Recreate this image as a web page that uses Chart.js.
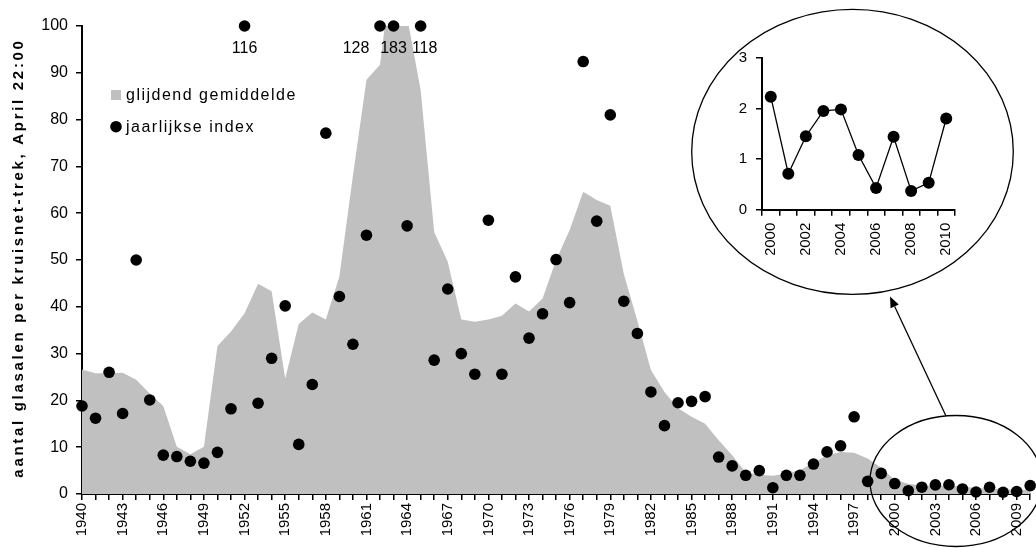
<!DOCTYPE html>
<html>
<head>
<meta charset="utf-8">
<script src="https://cdn.jsdelivr.net/npm/chart.js@4.4.1/dist/chart.umd.min.js"></script>
<style>
  html, body { margin: 0; padding: 0; background: #fff; }
  #wrap { position: relative; width: 1036px; height: 548px; }
  #wrap canvas { position: absolute; left: 0; top: 0; }
  #inset { pointer-events: none; }
</style>
</head>
<body>
<div id="wrap">
  <canvas id="main" width="1036" height="548"></canvas>
  <canvas id="inset" width="1036" height="548"></canvas>
</div>
<script>
// ---- data ----------------------------------------------------------------
const years = [
  '1940','1941','1942','1943','1944','1945','1946','1947','1948','1949',
  '1950','1951','1952','1953','1954','1955','1956','1957','1958','1959',
  '1960','1961','1962','1963','1964','1965','1966','1967','1968','1969',
  '1970','1971','1972','1973','1974','1975','1976','1977','1978','1979',
  '1980','1981','1982','1983','1984','1985','1986','1987','1988','1989',
  '1990','1991','1992','1993','1994','1995','1996','1997','1998','1999',
  '2000','2001','2002','2003','2004','2005','2006','2007','2008','2009','2010'
];

// running mean (grey area)
const movingAverage = [
  26.6, 25.8, 25.8, 25.9, 24.4, 21.5, 18.8, 10.1, 8.5, 10.1,
  31.6, 34.7, 38.6, 44.9, 43.3, 24.7, 36.3, 38.8, 37.3, 46.5,
  68.0, 88.5, 91.7, 115, 102, 86.3, 56.0, 49.6, 37.3, 36.8,
  37.3, 38.1, 40.7, 39.0, 41.8, 50.0, 56.4, 64.6, 62.8, 61.6,
  47.0, 37.0, 26.5, 21.8, 18.3, 16.5, 15.0, 11.5, 8.3, 4.6,
  4.1, 3.9, 4.4, 5.1, 6.7, 8.3, 9.0, 8.8, 7.6, 5.6,
  3.0, 2.2, 1.8, 1.7, 1.8, 1.6, 1.3, 1.2, 1.0, 0.9, 0.9
];

// yearly index (black dots)
const yearlyIndex = [
  18.8, 16.2, 26.0, 17.2, 50.0, 20.1, 8.3, 8.0, 7.0, 6.6,
  8.9, 18.2, 116, 19.4, 29.0, 40.2, 10.6, 23.4, 77.1, 42.2,
  32.0, 55.3, 128, 183, 57.3, 118, 28.6, 43.8, 30.0, 25.6,
  58.5, 25.6, 46.4, 33.3, 38.5, 50.1, 40.9, 92.4, 58.3, 81.0,
  41.2, 34.3, 21.8, 14.6, 19.5, 19.8, 20.8, 7.9, 6.0, 4.0,
  5.0, 1.35, 4.0, 4.0, 6.4, 9.0, 10.3, 16.5, 2.7, 4.4,
  2.23, 0.71, 1.45, 1.95, 1.98, 1.08, 0.43, 1.44, 0.37, 0.53, 1.80
];

const yTicksMain = { min: 0, max: 100, step: 10 };
const yTicksInset = { min: 0, max: 3, step: 1 };

const seriesNames = ['glijdend gemiddelde', 'jaarlijkse index'];
const yAxisTitle = 'aantal glasalen per kruisnet-trek, April 22:00';

// the last decade, shown enlarged in the round inset
const insetStart = years.indexOf('2000');
const insetYears = years.slice(insetStart);
const insetIndex = yearlyIndex.slice(insetStart);

// ---- styling -------------------------------------------------------------
const FONT = "'Liberation Sans', Arial, Helvetica, sans-serif";
const GREY = '#c0c0c0';
Chart.defaults.font.family = FONT;
Chart.defaults.color = '#000';

// horizontal nudge for value labels that would otherwise collide
const capLabelShift = { '1962': -24, '1965': 4 };

const axisGrid = { display: true, drawOnChartArea: false, drawTicks: true, tickLength: 6, color: '#000', lineWidth: 1.5 };
const axisBorder = { display: true, color: '#000', width: 2 };

// annotations drawn on top of the main chart: legend, axis title,
// labels for dots above the axis maximum, and the callout ellipses
const decorations = {
  id: 'decorations',
  afterDraw(chart) {
    const ctx = chart.ctx;
    const xs = chart.scales.x, ys = chart.scales.y;
    ctx.save();

    // values above the axis maximum
    ctx.font = '16px ' + FONT;
    ctx.fillStyle = '#000';
    ctx.textAlign = 'center';
    ctx.textBaseline = 'middle';
    yearlyIndex.forEach((v, i) => {
      if (v > yTicksMain.max) {
        const x = xs.getPixelForValue(i) + (capLabelShift[years[i]] || 0);
        const y = ys.getPixelForValue(yTicksMain.max) + 23;
        ctx.fillText(String(v), x, y);
      }
    });

    // legend
    const lx = chart.chartArea.left + 29;
    ctx.fillStyle = GREY;
    ctx.fillRect(lx, 90, 10, 10);
    ctx.fillStyle = '#000';
    ctx.beginPath();
    ctx.arc(lx + 5, 126.7, 5.8, 0, Math.PI * 2);
    ctx.fill();
    ctx.textAlign = 'left';
    ctx.letterSpacing = '1.5px';
    ctx.fillText(seriesNames[0], lx + 15, 95.5);
    ctx.fillText(seriesNames[1], lx + 15, 128);
    ctx.letterSpacing = '0px';

    // y-axis title
    ctx.save();
    ctx.translate(19, 258);
    ctx.rotate(-Math.PI / 2);
    ctx.font = 'bold 15px ' + FONT;
    ctx.textAlign = 'center';
    ctx.letterSpacing = '2.7px';
    ctx.fillText(yAxisTitle, 0, 0);
    ctx.restore();

    // callout: small ellipse around the last decade, arrow to the inset
    ctx.strokeStyle = '#000';
    ctx.lineWidth = 1.3;
    ctx.beginPath();
    ctx.ellipse(956, 481, 86, 65.5, 0, 0, Math.PI * 2);
    ctx.stroke();

    ctx.beginPath();
    ctx.ellipse(852.5, 151.8, 160.8, 142.5, 0, 0, Math.PI * 2);
    ctx.stroke();

    const ax0 = 946, ay0 = 416, ax1 = 890, ay1 = 296.5;
    const ang = Math.atan2(ay1 - ay0, ax1 - ax0);
    const headLen = 11, headW = 4.5;
    const bx = ax1 - headLen * Math.cos(ang), by = ay1 - headLen * Math.sin(ang);
    ctx.beginPath();
    ctx.moveTo(ax0, ay0);
    ctx.lineTo(bx, by);
    ctx.stroke();
    ctx.beginPath();
    ctx.moveTo(ax1, ay1);
    ctx.lineTo(bx + headW * Math.sin(ang), by - headW * Math.cos(ang));
    ctx.lineTo(bx - headW * Math.sin(ang), by + headW * Math.cos(ang));
    ctx.closePath();
    ctx.fill();

    ctx.restore();
  }
};

// ---- main chart ----------------------------------------------------------
new Chart(document.getElementById('main'), {
  type: 'line',
  data: {
    labels: years,
    datasets: [
      {
        label: seriesNames[0],
        data: movingAverage,
        fill: 'origin',
        backgroundColor: GREY,
        borderColor: 'rgba(0,0,0,0)',
        borderWidth: 0,
        pointRadius: 0,
        tension: 0,
        order: 2
      },
      {
        label: seriesNames[1],
        // dots beyond the axis maximum sit on the top edge
        data: yearlyIndex.map(v => Math.min(v, yTicksMain.max)),
        showLine: false,
        pointRadius: 5.8,
        pointBackgroundColor: '#000',
        pointBorderWidth: 0,
        clip: false,
        order: 1
      }
    ]
  },
  options: {
    responsive: false,
    animation: false,
    devicePixelRatio: 1,
    layout: { padding: { top: 26, right: 5, bottom: 0, left: 0 } },
    scales: {
      x: {
        type: 'category',
        offset: false,
        grid: axisGrid,
        border: axisBorder,
        ticks: {
          autoSkip: false,
          minRotation: 90,
          maxRotation: 90,
          padding: 3,
          font: { size: 15 },
          callback: function (v, i) { return i % 3 === 0 ? this.getLabelForValue(v) : ''; }
        },
        afterFit: s => { s.height = 54; s.paddingLeft = 0; s.paddingRight = 0; }
      },
      y: {
        min: yTicksMain.min,
        max: yTicksMain.max,
        grid: axisGrid,
        border: axisBorder,
        ticks: { stepSize: yTicksMain.step, padding: 8, font: { size: 16 } },
        afterFit: s => { s.width = 82; }
      }
    },
    plugins: { legend: { display: false }, tooltip: { enabled: false } }
  },
  plugins: [decorations]
});

// ---- inset: last decade on its own scale --------------------------------
new Chart(document.getElementById('inset'), {
  type: 'line',
  data: {
    labels: insetYears,
    datasets: [{
      data: insetIndex,
      borderColor: '#000',
      borderWidth: 1.3,
      pointRadius: 6,
      pointBackgroundColor: '#000',
      pointBorderWidth: 0,
      tension: 0,
      clip: false
    }]
  },
  options: {
    responsive: false,
    animation: false,
    devicePixelRatio: 1,
    layout: { padding: { left: 732, top: 57.7, right: 81, bottom: 293.3 } },
    scales: {
      x: {
        offset: true,
        grid: Object.assign({}, axisGrid, { offset: true }),
        border: axisBorder,
        ticks: {
          autoSkip: false,
          minRotation: 90,
          maxRotation: 90,
          padding: 7,
          font: { size: 15 },
          callback: function (v, i) { return i % 2 === 0 ? this.getLabelForValue(v) : ''; }
        },
        afterFit: s => { s.height = 45; s.paddingLeft = 0; s.paddingRight = 0; }
      },
      y: {
        min: yTicksInset.min,
        max: yTicksInset.max,
        grid: axisGrid,
        border: axisBorder,
        ticks: { stepSize: yTicksInset.step, padding: 9, font: { size: 15 } },
        afterFit: s => { s.width = 30; }
      }
    },
    plugins: { legend: { display: false }, tooltip: { enabled: false } }
  }
});
</script>
</body>
</html>
